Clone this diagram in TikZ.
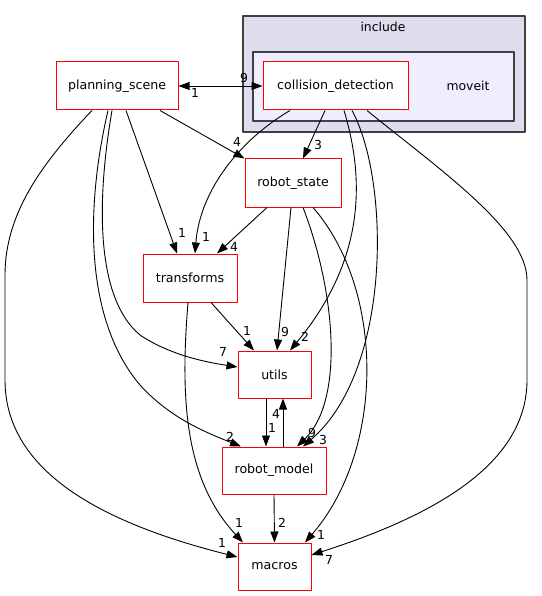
\documentclass[tikz,border=0pt]{standalone}
\usepackage{fontspec}
\setmainfont{DejaVu Sans}
\usetikzlibrary{arrows.meta}
\definecolor{inclfill}{HTML}{DDDDEE}
\definecolor{movfill}{HTML}{EEEEFF}
\definecolor{clborder}{HTML}{404040}
\tikzset{dir/.style={draw=red,fill=white,line width=1pt,minimum height=48pt,inner sep=0pt,font=\fontsize{12.6}{15}\selectfont},
	lbl/.style={inner sep=0pt,font=\fontsize{12.4}{14}\selectfont},
	dep/.style={->,line width=0.9pt}}
\begin{document}
\begin{tikzpicture}[x=1pt, y=-1pt, line join=round, >={Triangle[length=11pt,width=8pt]}]
	\useasboundingbox (0,0) rectangle (541,596);
	\draw[clborder,fill=inclfill,line width=1.2pt] (243,16) rectangle (525,132);
	\node[lbl] (incl) at (383,27) {include};
	\draw[clborder,fill=movfill,line width=1.2pt] (253,52) rectangle (514,121);
	\node[lbl] (mov) at (468,86) {moveit};
	\node[dir,minimum width=122pt] (ps) at (117,86) {planning\_scene};
	\node[dir,minimum width=145pt] (cd) at (335.5,86) {collision\_detection};
	\node[dir,minimum width=96pt] (rs) at (293,183) {robot\_state};
	\node[dir,minimum width=94pt] (tf) at (190,278) {transforms};
	\node[dir,minimum width=73pt,minimum height=47pt] (ut) at (274.5,374.5) {utils};
	\node[dir,minimum width=104pt,minimum height=47pt] (rm) at (274,470.5) {robot\_model};
	\node[dir,minimum width=73pt,minimum height=47pt] (ma) at (274.5,566.5) {macros};
	\draw[dep,<->] (ps.east) -- (cd.west);
	\draw[dep] ([xshift=43pt]ps.south) -- (rs.north west);
	\draw[dep] ([xshift=9pt]ps.south) -- ([xshift=-13pt]tf.north);
	\draw[dep] ([xshift=-5pt]ps.south) .. controls (95,210) and (98,300) .. (140,335) .. controls (170,355) and (205,362) .. ([yshift=7.5pt]ut.west);
	\draw[dep] ([xshift=-9pt]ps.south) .. controls (85,210) and (85,320) .. (140,385) .. controls (170,418) and (205,432) .. ([xshift=-33pt]rm.north);
	\draw[dep] ([xshift=-25pt]ps.south) .. controls (40,165) and (5,215) .. (5,275) -- (5,380) .. controls (5,475) and (110,525) .. ([yshift=9.5pt]ma.west);
	\draw[dep] ([xshift=-10.5pt]cd.south) -- ([xshift=10pt]rs.north);
	\draw[dep] ([xshift=-45.5pt]cd.south) .. controls (240,140) and (200,190) .. ([xshift=5pt]tf.north);
	\draw[dep] ([xshift=8.5pt]cd.south) .. controls (365,180) and (365,260) .. ([xshift=15.5pt]ut.north);
	\draw[dep] ([xshift=16.5pt]cd.south) .. controls (390,180) and (392,370) .. ([xshift=29pt]rm.north);
	\draw[dep] ([xshift=31.5pt]cd.south) .. controls (440,170) and (527,230) .. (527,280) -- (527,380) .. controls (527,470) and (420,520) .. ([yshift=11.5pt]ma.east);
	\draw[dep] ([xshift=-26pt]rs.south) -- ([xshift=27pt]tf.north);
	\draw[dep] ([xshift=-2pt]rs.south) -- ([xshift=2.5pt]ut.north);
	\draw[dep] ([xshift=10pt]rs.south) .. controls (335,290) and (345,400) .. ([xshift=23pt]rm.north);
	\draw[dep] ([xshift=20pt]rs.south) .. controls (385,290) and (385,450) .. ([xshift=30.5pt]ma.north);
	\draw[dep] ([xshift=21pt]tf.south) -- ([xshift=-20.5pt]ut.north);
	\draw[dep] ([xshift=-2pt]tf.south) .. controls (180,400) and (185,480) .. ([xshift=-31.5pt]ma.north);
	\draw[dep] ([xshift=-8.5pt]ut.south) -- ([xshift=-8pt]rm.north);
	\draw[dep] ([xshift=9pt]rm.north) -- ([xshift=8.5pt]ut.south);
	\draw[dep] (rm.south) -- (ma.north);
	\foreach \x/\y/\t in {244/78/9,195/93/1,237/142/4,182/233/1,206/237/1,234/247/4,318/145/3,223/352/7,247/331/1,285/332/9,305/337/2,230/437/2,276/414/4,272/428/1,312/433/9,323/440/3,239/523/1,282/523/2,321/535/1,222/543/1,329/560/7}
	{\node[lbl] at (\x,\y) {\t};}
\end{tikzpicture}
\end{document}
